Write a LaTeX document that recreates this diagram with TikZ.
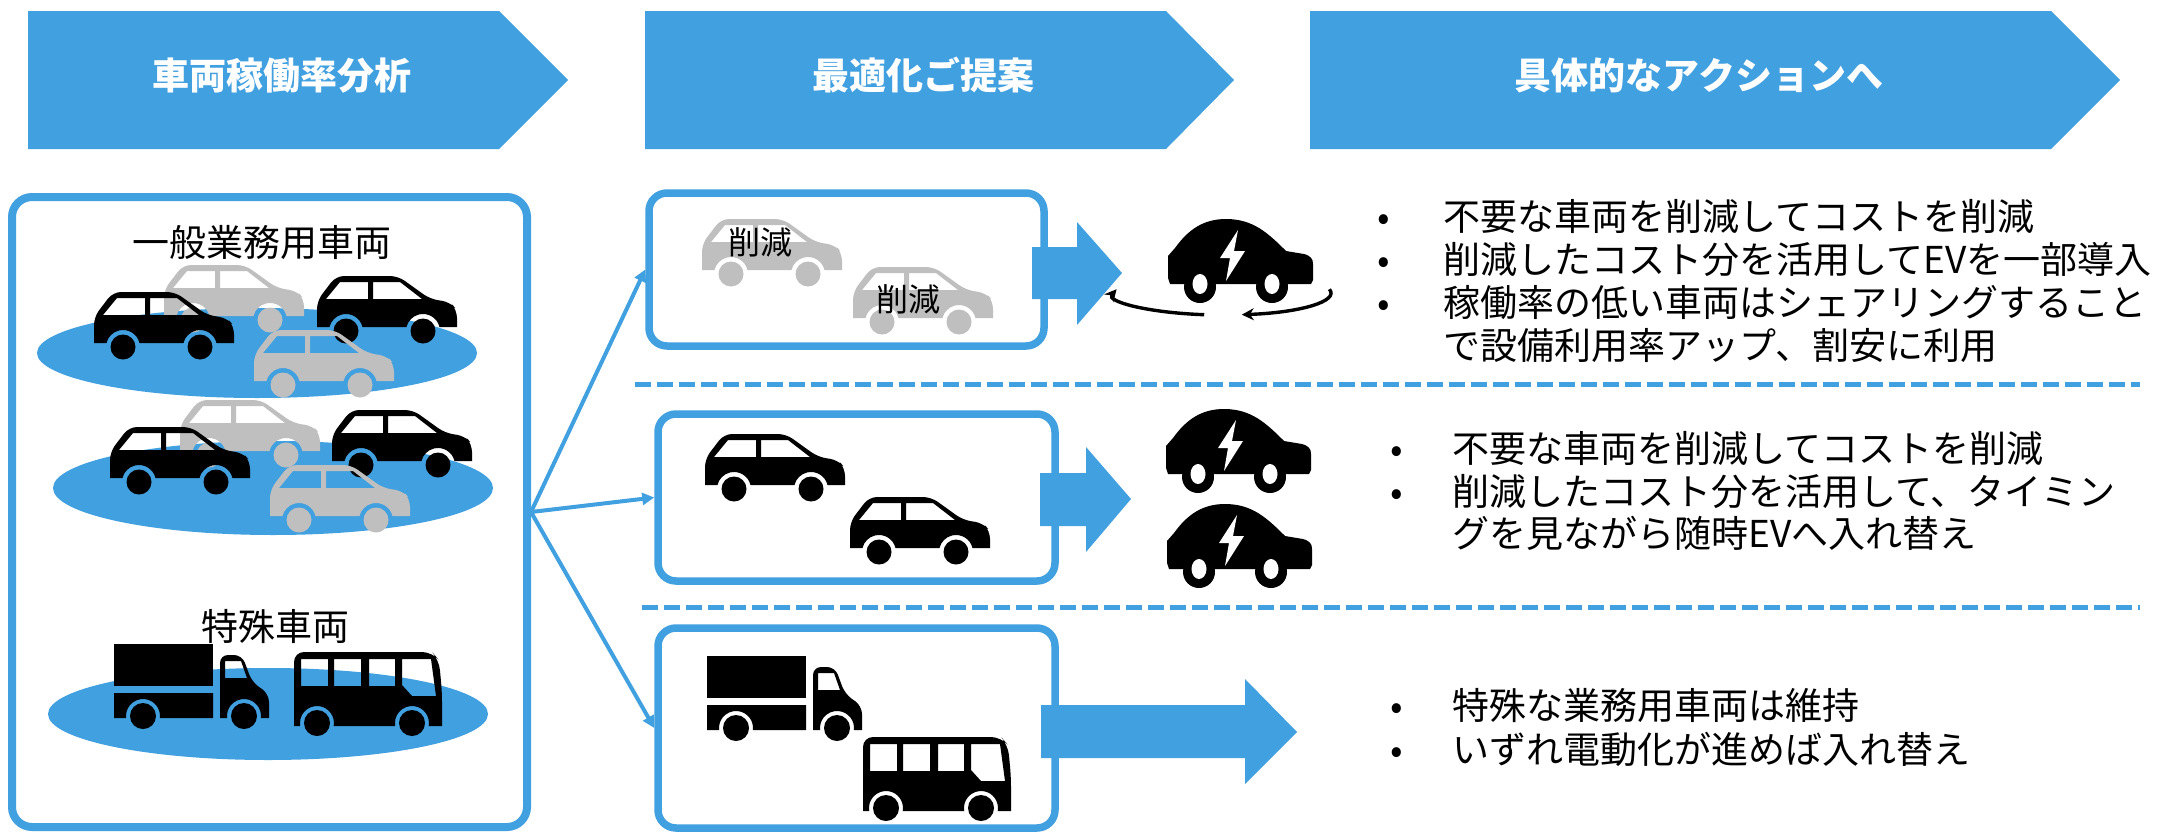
\documentclass[tikz,border=0pt]{standalone}
\usepackage{fontspec}
\setmainfont{Noto Sans CJK JP}
\usetikzlibrary{arrows.meta}
\definecolor{flowblue}{RGB}{65,160,223}
\definecolor{fadegray}{RGB}{191,191,191}

\tikzset{
  % side view of a car, 140 x 69 units, origin top-left
  pics/sedan/.style={code={
    \fill[#1, even odd rule]
      (0,53) [rounded corners=4pt] -- (0,27) -- (19,2) -- (81,2) -- (113,25) -- (133,28) -- (140,36)
      [sharp corners] -- (140,53) -- (122.5,53)
      arc[start angle=-13.6, end angle=-166.4, radius=17] -- (45.5,53)
      arc[start angle=-13.6, end angle=-166.4, radius=17] -- cycle
      (9,25) -- (23,8) -- (51,8) -- (51,25) -- cycle
      (56,25) -- (56,8) -- (83,8) -- (105,25) -- cycle;
    \fill[#1] (29,57) circle[radius=12.5] (106,57) circle[radius=12.5];
  }},
  % box truck, 155 x 87 units
  pics/lorry/.style={code={
    \fill (0,0) rectangle (99,42);
    \fill (0,49) -- (99,49) -- (99,74) -- (45.9,74)
      arc[start angle=6.75, end angle=-186.75, radius=17] -- (0,74) -- cycle;
    \fill[even odd rule] (106,74) [rounded corners=4pt] -- (106,11) -- (128,11) -- (138,38) -- (155,50)
      [sharp corners] -- (155,74) -- (146.9,74)
      arc[start angle=6.75, end angle=-186.75, radius=17] -- cycle
      (111,17) -- (127,17) -- (133,34) -- (111,34) -- cycle;
    \fill (29,72) circle[radius=13] (130,72) circle[radius=13];
  }},
  % bus, 148 x 84 units
  pics/coach/.style={code={
    \fill[even odd rule] (0,74) [rounded corners=5pt] -- (0,0) -- (138,0) -- (145,8) -- (148,40)
      [sharp corners] -- (148,74) -- (134.7,74)
      arc[start angle=10.2, end angle=-190.2, radius=17] -- (39.7,74)
      arc[start angle=10.2, end angle=-190.2, radius=17] -- cycle
      (7,7) rectangle (34,34) (40,7) rectangle (67,34) (75,7) rectangle (101,34)
      (108,7) -- (137,7) -- (142,44) -- (118,44) -- (108,33) -- cycle;
    \fill (23,71) circle[radius=13] (118,71) circle[radius=13];
  }},
  % electric car with bolt, 145 x 85 units
  pics/evcar/.style={code={
    \fill[black] (2,66) -- (0,60) -- (0,38) -- (7,30)
      .. controls (20,12) and (35,1) .. (58,1)
      .. controls (85,1) and (100,15) .. (118,33) -- (136,36)
      .. controls (143,38) and (145,41) .. (145,46) -- (145,62) -- (143,66) -- cycle;
    \fill[black] (32,69) circle[radius=16] (104,69) circle[radius=16];
    \fill[white] (32,66) ellipse[x radius=7.5, y radius=10] (104,66) ellipse[x radius=7.5, y radius=10];
    \fill[white] (70,12) -- (52,40) -- (62,40) -- (58,63) -- (77,33) -- (66,33) -- cycle;
  }},
}

\begin{document}
\begin{tikzpicture}[x=0.5pt, y=-0.5pt,
  stage/.style={fill=flowblue},
  stagetext/.style={text=white, font=\fontsize{18.5pt}{22pt}\selectfont\bfseries, anchor=base, inner sep=0pt},
  panel/.style={draw=flowblue, fill=white, line width=3.75pt, rounded corners=9pt, inner sep=0pt},
  yard/.style={fill=flowblue},
  caption/.style={font=\fontsize{18.5pt}{22pt}\selectfont, anchor=base, inner sep=0pt},
  cuttag/.style={font=\fontsize{16pt}{19pt}\selectfont, anchor=base, inner sep=0pt},
  bullettext/.style={font=\fontsize{18.5pt}{22pt}\selectfont, anchor=base west, inner sep=0pt},
  bulletmark/.style={font=\fontsize{18.5pt}{22pt}\selectfont, anchor=base, inner sep=0pt},
  feed/.style={draw=flowblue, line width=2pt, -{Triangle[length=6pt,width=6pt]}},
  divider/.style={draw=flowblue, line width=2.5pt, dash pattern=on 8pt off 3pt},
  bigarrow/.style={fill=flowblue},
  spin/.style={draw=black, line width=1.7pt, -{Stealth[length=6pt,width=6pt]}},
]
\useasboundingbox (0,0) rectangle (2167,835);
\fill[white] (0,0) rectangle (2167,835);

% header chevrons
\fill[stage] (28,11) -- (499,11) -- (568,80) -- (499,149) -- (28,149) -- cycle;
\fill[stage] (645,11) -- (1166,11) -- (1234,80) -- (1166,149) -- (645,149) -- cycle;
\fill[stage] (1310,11) -- (2051,11) -- (2120,80) -- (2051,149) -- (1310,149) -- cycle;
\node[stagetext] (h1) at (282,89) {車両稼働率分析};
\node[stagetext] (h2) at (923,89) {最適化ご提案};
\node[stagetext] (h3) at (1699,89) {具体的なアクションへ};

% fleet overview
\node[panel, line width=4pt, rounded corners=10pt, minimum width=257.5pt, minimum height=315pt] (lbox) at (269.5,512) {};
\node[caption] (gen) at (262,256) {一般業務用車両};
\fill[yard] (257,353) ellipse[x radius=220, y radius=45];
\pic at (164,263) {sedan=fadegray};
\pic at (94,290) {sedan=black};
\pic at (317,274) {sedan=black};
\pic at (254,328) {sedan=fadegray};
\fill[yard] (273,488) ellipse[x radius=220, y radius=47];
\pic at (180,398) {sedan=fadegray};
\pic at (110,425) {sedan=black};
\pic at (332,408) {sedan=black};
\pic at (270,463) {sedan=fadegray};
\node[caption] (spec) at (275,640) {特殊車両};
\fill[yard] (268,714) ellipse[x radius=220, y radius=46];
\pic at (114,644) {lorry};
\pic at (294,652) {coach};

% proposal panels
\node[panel, minimum width=197.5pt, minimum height=76.5pt] (box1) at (846.5,269.5) {};
\node[panel, minimum width=198.5pt, minimum height=83.5pt] (box2) at (856.5,497.5) {};
\node[panel, minimum width=198.5pt, minimum height=100pt] (box3) at (856.5,728) {};

\pic at (702,217) {sedan=fadegray};
\pic at (853,265) {sedan=fadegray};
\node[cuttag] (cut1) at (760,254) {削減};
\node[cuttag] (cut2) at (908,311) {削減};

\pic at (705,432) {sedan=black};
\pic at (850,495) {sedan=black};

\pic at (707,656) {lorry};
\pic at (863,737) {coach};

% connectors
\draw[feed] (lbox.east) -- (box1.west);
\draw[feed] (lbox.east) -- (box2.west);
\draw[feed] (lbox.east) -- (box3.west);

% block arrows
\fill[bigarrow] (1032,247) -- (1077,247) -- (1077,222) -- (1122,273) -- (1077,325) -- (1077,299) -- (1032,299) -- cycle;
\fill[bigarrow] (1040,473) -- (1086,473) -- (1086,447) -- (1131,499) -- (1086,552) -- (1086,526) -- (1040,526) -- cycle;
\fill[bigarrow] (1041,705) -- (1245,705) -- (1245,679) -- (1297,732) -- (1245,784) -- (1245,758) -- (1041,758) -- cycle;

% electric vehicles
\draw[spin] (1329.4,289.2) arc[start angle=-10, end angle=80, x radius=108, y radius=22];
\draw[spin] (1204.2,314.7) arc[start angle=100, end angle=190, x radius=108, y radius=22];
\pic at (1168,218) {evcar};
\pic at (1166,408) {evcar};
\pic at (1167,503) {evcar};

% row dividers
\coordinate (d1a) at (635,384);
\coordinate (d1b) at (2140,384);
\coordinate (d2a) at (642,607);
\coordinate (d2b) at (2140,607);
\draw[divider] (d1a) -- (d1b);
\draw[divider] (d2a) -- (d2b);

% actions
\node[bulletmark] (b11) at (1384,230) {•};
\node[bulletmark] (b12) at (1384,273) {•};
\node[bulletmark] (b13) at (1384,316) {•};
\node[bullettext] (t11) at (1443,230) {不要な車両を削減してコストを削減};
\node[bullettext] (t12) at (1443,273) {削減したコスト分を活用してEVを一部導入};
\node[bullettext] (t13) at (1443,316) {稼働率の低い車両はシェアリングすること};
\node[bullettext] (t14) at (1443,359) {で設備利用率アップ、割安に利用};

\node[bulletmark] (b21) at (1397,462) {•};
\node[bulletmark] (b22) at (1397,505) {•};
\node[bullettext] (t21) at (1452,462) {不要な車両を削減してコストを削減};
\node[bullettext] (t22) at (1452,505) {削減したコスト分を活用して、タイミン};
\node[bullettext] (t23) at (1452,547) {グを見ながら随時EVへ入れ替え};

\node[bulletmark] (b31) at (1397,719) {•};
\node[bulletmark] (b32) at (1397,763) {•};
\node[bullettext] (t31) at (1452,719) {特殊な業務用車両は維持};
\node[bullettext] (t32) at (1452,763) {いずれ電動化が進めば入れ替え};
\end{tikzpicture}
\end{document}
